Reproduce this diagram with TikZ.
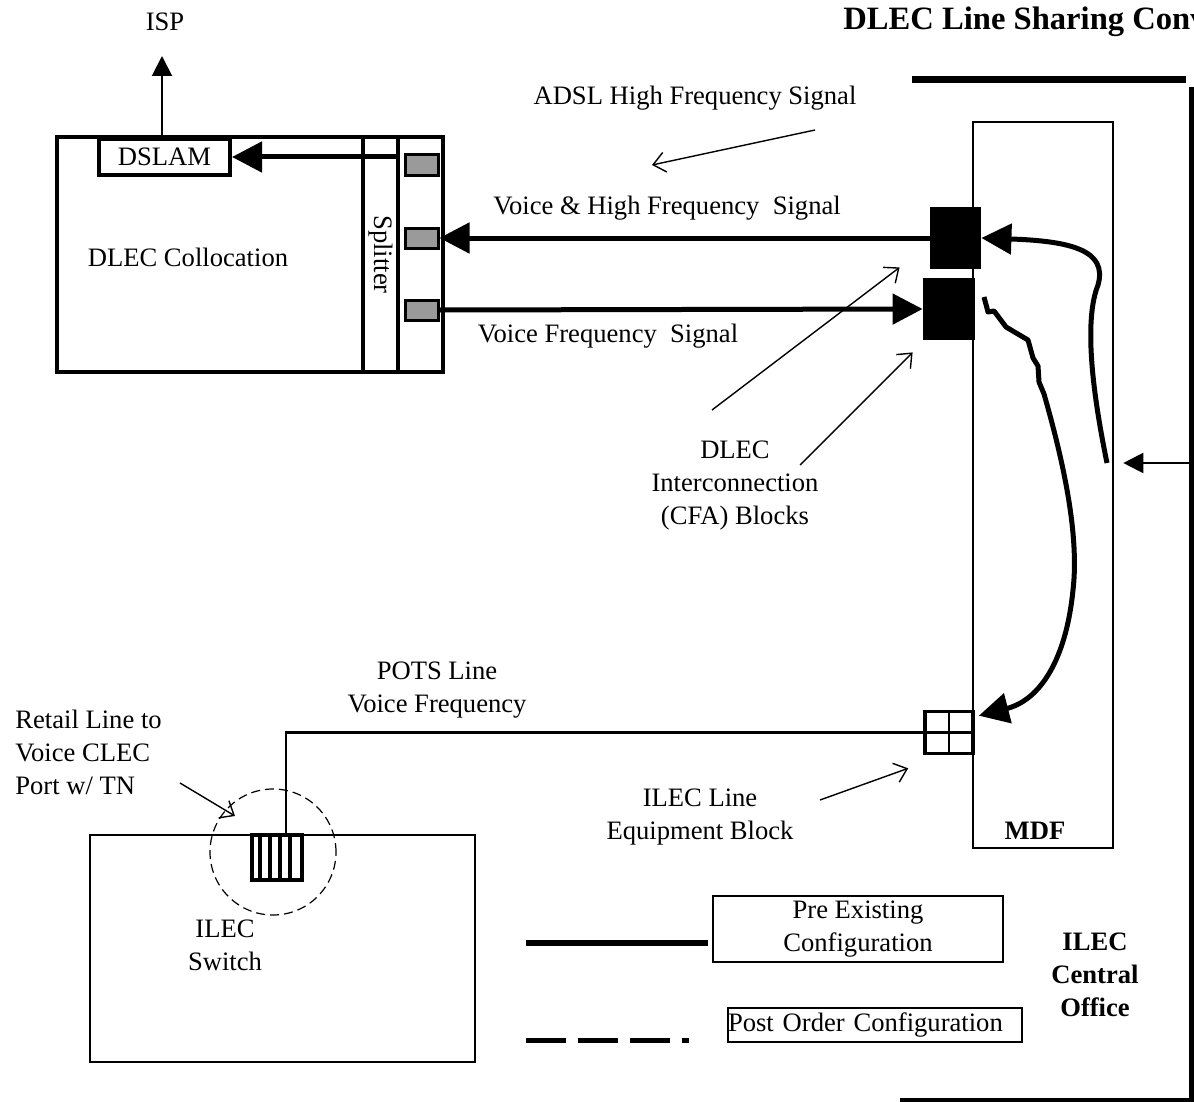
\documentclass[tikz,border=0pt]{standalone}
\usepackage{fontspec}
\setmainfont{Liberation Serif}
\usepackage{xcolor}
\usepackage{tikz}
\usetikzlibrary{arrows.meta,positioning,calc}
\definecolor{pgray}{HTML}{9A9A9A}

\tikzset{
  txt/.style={font=\fontsize{13.3}{16.5}\selectfont,align=center,inner sep=0pt},
  btxt/.style={txt,font=\fontsize{13.3}{16.5}\selectfont\bfseries},
  heavy/.style={draw,line width=2pt,inner sep=0pt},
  wire/.style={line width=2.5pt,-{Triangle[length=15pt,width=15pt]}},
  pointer/.style={line width=0.7pt,-{Straight Barb[length=6pt,width=10pt]}},
  port/.style={draw,line width=1.5pt,fill=pgray,minimum width=16.5pt,minimum height=10pt,inner sep=0pt},
  cfa/.style={fill=black,inner sep=0pt,minimum height=31pt}
}

\begin{document}
\begin{tikzpicture}[x=0.5pt,y=-0.5pt]
\useasboundingbox (0,0) rectangle (1194,1102);

\node[btxt,font=\fontsize{16.3}{19}\selectfont\bfseries,anchor=west] (title) at (843,22) {DLEC Line Sharing Conv};

% DLEC collocation cage
\node[heavy,minimum width=193pt,minimum height=117.5pt] (coll) at (250,254.5) {};
\node[heavy,minimum width=17.5pt,minimum height=117.5pt] (split) at (380.5,254.5) {};
\node[txt,rotate=-90] (splitlbl) at (split) {Splitter};
\node[heavy,minimum width=65.5pt,minimum height=18pt] (dslam) at (164.5,157) {};
\node[txt] (dslamlbl) at (dslam) {DSLAM};
\node[txt] (colllbl) at (188,257) {DLEC Collocation};
\node[port] (p1) at (421.5,165) {};
\node[port] (p2) at (421.5,238) {};
\node[port] (p3) at (421.5,310) {};

\node[txt] (isp) at (165,22) {ISP};
\coordinate (isptip) at (162,56);
\draw[line width=1pt,-{Triangle[length=10pt,width=10pt]}] (dslam.north -| isptip) -- (isptip);
\draw[wire] (split.east |- dslam.east) -- (dslam.east);

% main distribution frame
\node[draw,line width=1.3pt,minimum width=70pt,minimum height=363pt,inner sep=0pt] (mdf) at (1043,485) {};
\node[btxt] (mdflbl) at (1035,831) {MDF};
\node[cfa,minimum width=25.5pt] (cfa1) at (955.5,238) {};
\node[cfa,minimum width=26pt] (cfa2) at (949,309) {};
\node[draw,line width=1.8pt,minimum width=24pt,minimum height=21pt,inner sep=0pt] (le) at (949,732.5) {};
\draw[line width=1.3pt] (le.north) -- (le.south) (le.west) -- (le.east);

\draw[wire] (cfa1.west) -- (p2.east);
\draw[wire] (p3.east) -- (cfa2.west);

% jumpers
\coordinate (loopa) at (1107,463);
\draw[wire] (loopa) .. controls (1092,390) and (1084,320) .. (1098,285)
  .. controls (1108,250) and (1070,241) .. (cfa1.east);
\draw[wire,line join=round] (984,297) -- (988,312) -- (994,311) -- (1006,327) -- (1028,340)
  -- (1033,358) -- (1038,366) -- (1039,382) -- (1044,394)
  .. controls (1060,450) and (1080,530) .. (1073,590)
  .. controls (1066,660) and (1040,700) .. ($(le.north east)+(4,6)$);

% central office boundary
\coordinate (cotop) at (1191,87);
\coordinate (cobot) at (1191,1100);
\draw[line width=3.5pt] (912,80) -- (1186,80);
\draw[line width=2.5pt] (cotop) -- (cobot) -- (900,1100);
\draw[line width=1pt,-{Triangle[length=10pt,width=10pt]}] (cotop |- loopa) -- ($(mdf.east |- loopa)+(9,0)$);

% labels and pointers
\node[txt] (adsl) at (695,98) {ADSL High Frequency Signal};
\node[txt] (vhf) at (667,208) {Voice \& High Frequency~ Signal};
\node[txt] (vf) at (608,336) {Voice Frequency~ Signal};
\node[txt] (cfalbl) at (735,486) {DLEC\\Interconnection\\(CFA) Blocks};
\coordinate (adsltail) at (815,130);
\coordinate (adsltip) at (652,165);
\draw[pointer] (adsltail) -- (adsltip);
\coordinate (cfatail1) at (712,410);
\coordinate (cfatail2) at (800,465);
\draw[pointer] (cfatail1) -- ($(cfa1.south west)+(-30,-2)$);
\draw[pointer] (cfatail2) -- ($(cfa2.south west)+(-10,12)$);

% ILEC switch
\node[draw,line width=1.3pt,minimum width=192.5pt,minimum height=113.5pt,inner sep=0pt] (sw) at (282.5,948.5) {};
\node[txt] (swlbl) at (225,945) {ILEC\\Switch};
\node[draw,line width=1.8pt,minimum width=25pt,minimum height=22.5pt,inner sep=0pt] (swport) at (277,857.5) {};
\foreach \dx in {10,20,30,40}
  \draw[line width=1.8pt] ($(swport.north west)+(\dx,0)$) -- ($(swport.south west)+(\dx,0)$);
\node[draw,circle,line width=0.6pt,dash pattern=on 4.5pt off 2.5pt,minimum size=63pt,inner sep=0pt] (portring) at (273,852) {};
\draw[line width=1.2pt] (le.west) -| ($(swport.north)+(9,0)$);

\node[txt] (pots) at (437,690) {POTS Line\\Voice Frequency};
\node[txt,align=left,anchor=west] (retail) at (15,752) {Retail Line to\\Voice CLEC\\Port w/ TN};
\coordinate (retailtail) at (180,783);
\coordinate (retailtip) at (235,816);
\draw[pointer] (retailtail) -- (retailtip);
\node[txt] (lelbl) at (700,817) {ILEC Line\\Equipment Block};
\coordinate (letail) at (820,800);
\draw[pointer] (letail) -- ($(le.south west)+(-15,13)$);

% legend
\draw[line width=3pt] (526,943) -- (708,943);
\draw[line width=2.5pt,dash pattern=on 20pt off 6pt on 20pt off 6pt on 20pt off 6pt on 3.5pt off 60pt] (526,1040) -- (690,1040);
\node[draw,line width=0.8pt,txt,minimum width=145pt,minimum height=33pt] (prebox) at (858,929) {Pre Existing\\Configuration};
\node[draw,line width=0.8pt,txt,align=left,text width=147pt,minimum height=17pt] (postbox) at (875,1025) {Post Order Configuration};
\node[btxt] (colbl) at (1095,975) {ILEC\\Central\\Office};
\end{tikzpicture}
\end{document}
